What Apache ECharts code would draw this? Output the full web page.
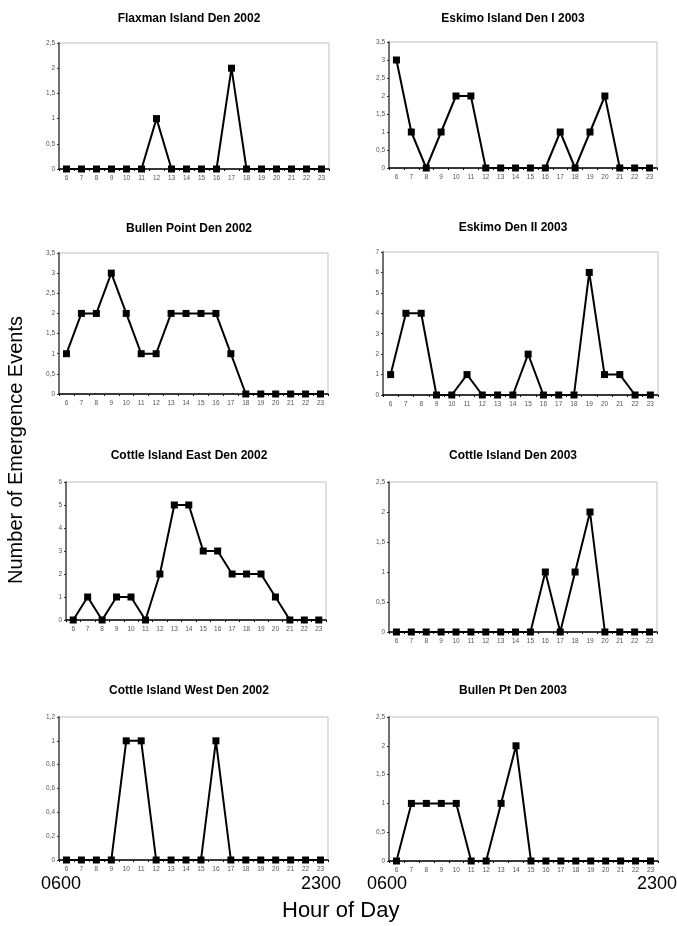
<!DOCTYPE html>
<html><head><meta charset="utf-8">
<script src="https://cdn.jsdelivr.net/npm/echarts@6/dist/echarts.min.js"></script>
<style>html,body{margin:0;padding:0;background:#fff}#c{width:677px;height:926px}</style>
</head><body><div id="c"></div>
<script>
const hours = ['6','7','8','9','10','11','12','13','14','15','16','17','18','19','20','21','22','23'];
const titles = ['Flaxman Island Den 2002','Eskimo Island Den I 2003','Bullen Point Den 2002','Eskimo Den II 2003','Cottle Island East Den 2002','Cottle Island Den 2003','Cottle Island West Den 2002','Bullen Pt Den 2003'];
const flaxman2002   = [0,0,0,0,0,0,1,0,0,0,0,2,0,0,0,0,0,0];
const eskimoI2003   = [3,1,0,1,2,2,0,0,0,0,0,1,0,1,2,0,0,0];
const bullenPt2002  = [1,2,2,3,2,1,1,2,2,2,2,1,0,0,0,0,0,0];
const eskimoII2003  = [1,4,4,0,0,1,0,0,0,2,0,0,0,6,1,1,0,0];
const cottleEast2002= [0,1,0,1,1,0,2,5,5,3,3,2,2,2,1,0,0,0];
const cottle2003    = [0,0,0,0,0,0,0,0,0,0,1,0,1,2,0,0,0,0];
const cottleWest2002= [0,0,0,0,1,1,0,0,0,0,1,0,0,0,0,0,0,0];
const bullenPt2003  = [0,1,1,1,1,0,0,1,2,0,0,0,0,0,0,0,0,0];
const seriesData = [flaxman2002,eskimoI2003,bullenPt2002,eskimoII2003,cottleEast2002,cottle2003,cottleWest2002,bullenPt2003];
const yMax =      [2.5,3.5,3.5,7,6,2.5,1.2,2.5];
const yInterval = [0.5,0.5,0.5,1,1,0.5,0.2,0.5];

// layout: [left, right, top, bottom] in px
const boxes = [
  [59,329,43,169],[389,657,42,168],
  [59,328,253,394],[383,658,252,395],
  [66,326,482,620],[389,657,482,632],
  [59,328,717,860],[389,658,717,861]
];
const titleY = [8,8,218,217,445,445,680,680];

const grids=[],xAxes=[],yAxes=[],series=[],titleArr=[];
boxes.forEach((b,i)=>{
  grids.push({left:b[0],top:b[2],width:b[1]-b[0],height:b[3]-b[2],show:true,borderColor:'#c0c0c0',borderWidth:1,backgroundColor:'transparent'});
  xAxes.push({type:'category',gridIndex:i,data:hours,boundaryGap:true,
    axisLine:{lineStyle:{color:'#000',width:1.5}},
    axisTick:{show:true,length:2,lineStyle:{color:'#000'}},
    axisLabel:{fontSize:6.5,color:'#555',fontFamily:'Liberation Sans',margin:6,interval:0},
    splitLine:{show:false}});
  yAxes.push({type:'value',gridIndex:i,min:0,max:yMax[i],interval:yInterval[i],
    axisLine:{show:true,lineStyle:{color:'#707070',width:2}},
    axisTick:{show:true,length:2,lineStyle:{color:'#333'}},
    axisLabel:{fontSize:6.5,color:'#555',fontFamily:'Liberation Sans',margin:4,
      formatter:v=>String(+v.toFixed(1)).replace('.',',')},
    splitLine:{show:false}});
  series.push({type:'line',xAxisIndex:i,yAxisIndex:i,data:seriesData[i],
    symbol:'rect',symbolSize:7,itemStyle:{color:'#000'},
    lineStyle:{color:'#000',width:2},animation:false});
  const cx = i%2===0 ? 184 : 508;
  titleArr.push({text:titles[i],left:cx,top:titleY[i],textAlign:'center',
    textStyle:{fontSize:12,fontWeight:'bold',color:'#000',fontFamily:'Liberation Sans'}});
});

const chart = echarts.init(document.getElementById('c'),null,{renderer:'canvas'});
chart.setOption({
  animation:false,
  title:titleArr,
  grid:grids,xAxis:xAxes,yAxis:yAxes,series:series,
  graphic:[
    {type:'text',left:41,top:875,style:{text:'0600',fontSize:18,fill:'#000',fontFamily:'Liberation Sans'}},
    {type:'text',left:301,top:875,style:{text:'2300',fontSize:18,fill:'#000',fontFamily:'Liberation Sans'}},
    {type:'text',left:367,top:875,style:{text:'0600',fontSize:18,fill:'#000',fontFamily:'Liberation Sans'}},
    {type:'text',left:637,top:875,style:{text:'2300',fontSize:18,fill:'#000',fontFamily:'Liberation Sans'}},
    {type:'text',left:282,top:900,style:{text:'Hour of Day',fontSize:22,fill:'#000',fontFamily:'Liberation Sans'}},
    {type:'text',x:16,y:450,rotation:Math.PI/2,style:{text:'Number of Emergence Events',fontSize:20,fill:'#000',fontFamily:'Liberation Sans',align:'center',verticalAlign:'middle'}}
  ]
});
</script></body></html>
